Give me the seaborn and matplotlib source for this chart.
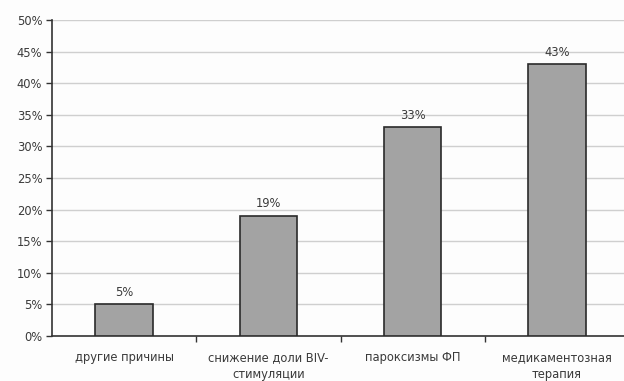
import matplotlib
matplotlib.use("Agg")
import matplotlib.pyplot as plt
import seaborn as sns
import pandas as pd
from matplotlib.ticker import MultipleLocator, FuncFormatter, FixedLocator

categories = ["другие причины", "снижение доли BIV-\nстимуляции", "пароксизмы ФП", "медикаментозная\nтерапия"]
values = [5, 19, 33, 43]

sns.set_theme(style="white")
plt.rcParams['font.family'] = ['DejaVu Sans']

df = pd.DataFrame({"cat": categories, "val": values})

fig = plt.figure(figsize=(6.24, 3.81), dpi=100)
fig.patch.set_facecolor("#fdfdfd")
ax = fig.add_axes([52/624, 1-336/381, 577/624, 316/381])
ax.set_facecolor("#fdfdfd")

sns.barplot(data=df, x="cat", y="val", ax=ax, color="#a3a3a3", width=0.4,
            edgecolor="#2a2a2a", linewidth=1.2, saturation=1, zorder=3)

ax.set_ylim(0, 50)
ax.set_xlim(-0.5, 3.5)
ax.yaxis.set_major_locator(MultipleLocator(5))
ax.yaxis.set_major_formatter(FuncFormatter(lambda v, p: f"{int(v)}%"))
ax.grid(axis="y", color="#cfcfcf", linewidth=1.0, zorder=0)
ax.set_axisbelow(True)

fs = 8.3
for c in ax.containers:
    ax.bar_label(c, labels=[f"{v}%" for v in values], padding=4, fontsize=fs, color="#3a3a3a")

ax.set_xlabel("")
ax.set_ylabel("")
ax.tick_params(axis="y", which="major", length=4, width=1, color="#333333", labelsize=fs, labelcolor="#3a3a3a", left=True, pad=3)
ax.tick_params(axis="x", which="major", length=0, labelsize=fs, labelcolor="#3a3a3a", pad=11)
for lbl in ax.get_xticklabels():
    lbl.set_linespacing(1.4)
ax.xaxis.set_minor_locator(FixedLocator([0.5, 1.5, 2.5, 3.5]))
ax.tick_params(axis="x", which="minor", length=4, width=1, color="#333333", bottom=True)

for s in ["top", "right"]:
    ax.spines[s].set_visible(False)
for s in ["left", "bottom"]:
    ax.spines[s].set_color("#333333")
    ax.spines[s].set_linewidth(1.2)

fig.savefig("out.png", dpi=100, facecolor=fig.get_facecolor())
